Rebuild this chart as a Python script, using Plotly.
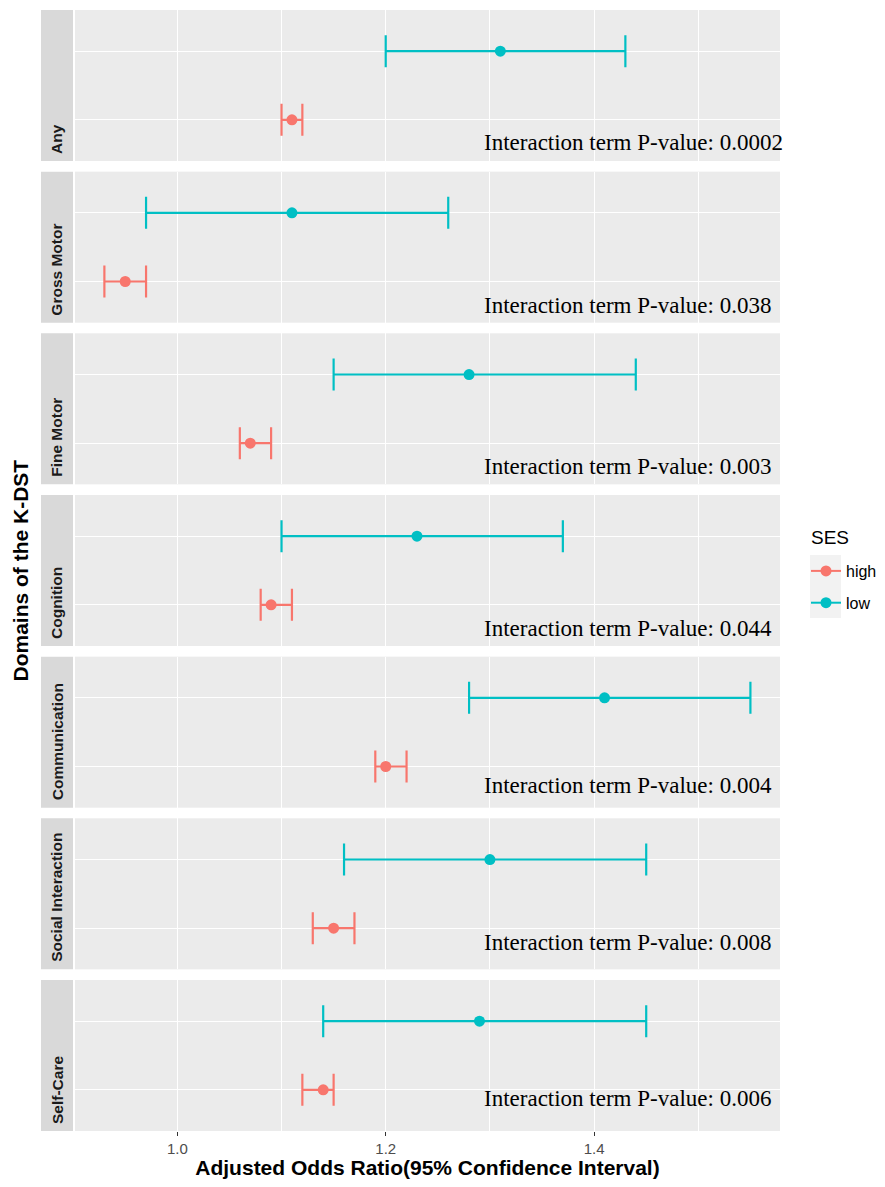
import plotly.graph_objects as go
from plotly.subplots import make_subplots

# ---------------- data ----------------
domains = ["Any", "Gross Motor", "Fine Motor", "Cognition",
           "Communication", "Social Interaction", "Self-Care"]
ses_levels = ["high", "low"]
high_or = [1.11, 0.95, 1.07, 1.09, 1.20, 1.15, 1.14]
high_lo = [1.10, 0.93, 1.06, 1.08, 1.19, 1.13, 1.12]
high_hi = [1.12, 0.97, 1.09, 1.11, 1.22, 1.17, 1.15]
low_or = [1.31, 1.11, 1.28, 1.23, 1.41, 1.30, 1.29]
low_lo = [1.20, 0.97, 1.15, 1.10, 1.28, 1.16, 1.14]
low_hi = [1.43, 1.26, 1.44, 1.37, 1.55, 1.45, 1.45]
p_values = ["0.0002", "0.038", "0.003", "0.044", "0.004", "0.008", "0.006"]
x_ticks = [1.0, 1.2, 1.4]
x_tick_labels = ["1.0", "1.2", "1.4"]

# ---------------- style / layout ----------------
OFF = 8                      # default page body margin
W, H = 885 - 2 * OFF, 1187 - 2 * OFF
# reference-pixel plot area: x 75..780, y 10..1131
ML = 75 - OFF
MT = 10 - OFF
MR = W - (780 - OFF)
MB = H - (1131 - OFF)
PW = W - ML - MR
PH = H - MT - MB
GAP = 10.67
colors = {"high": "#F8766D", "low": "#00BFC4"}
text_x = 1.2924          # left edge of p-value labels (data units)
label_baseline_px = [10, 9, 9, 9, 14, 18, 24]


def xp(px):
    """reference x pixel -> paper coordinate"""
    return (px - OFF - ML) / PW


def yp(py):
    """reference y pixel -> paper coordinate"""
    return (MT + PH - (py - OFF)) / PH


n = len(domains)
fig = make_subplots(rows=n, cols=1, shared_xaxes=True,
                    vertical_spacing=GAP / PH)

series = {
    "high": (high_or, high_lo, high_hi),
    "low": (low_or, low_lo, low_hi),
}

for i in range(n):
    for lvl in ses_levels:
        est, lo, hi = series[lvl]
        fig.add_trace(go.Scatter(
            x=[est[i]], y=[lvl],
            mode="lines+markers",
            name=lvl, legendgroup=lvl, showlegend=(i == 0),
            marker=dict(color=colors[lvl], size=11),
            line=dict(color=colors[lvl], width=2),
            error_x=dict(type="data", symmetric=False,
                         array=[hi[i] - est[i]],
                         arrayminus=[est[i] - lo[i]],
                         color=colors[lvl], thickness=2.2, width=16),
            hoverinfo="x+y",
        ), row=i + 1, col=1)

annotations = []
shapes = []
for i in range(n):
    ax = "" if i == 0 else str(i + 1)
    # p-value text
    annotations.append(dict(
        xref="x" + ax, yref="y" + ax + " domain",
        x=text_x, y=0, xanchor="left", yanchor="bottom",
        yshift=label_baseline_px[i] - 6,
        text="Interaction term P-value: " + p_values[i],
        showarrow=False,
        font=dict(family="Liberation Serif, Times New Roman, serif",
                  size=23, color="#000000"),
    ))
    # strip label
    annotations.append(dict(
        xref="paper", yref="y" + ax + " domain",
        x=xp(57), y=0, xanchor="center", yanchor="bottom", yshift=5,
        text="<b>" + domains[i] + "</b>", textangle=-90,
        showarrow=False,
        font=dict(family="Liberation Sans, Arial, sans-serif",
                  size=15.5, color="#1A1A1A"),
    ))
    shapes.append(dict(
        type="rect", xref="paper", yref="y" + ax + " domain",
        x0=xp(41), x1=xp(73), y0=0, y1=1,
        fillcolor="#D9D9D9", line=dict(width=0), layer="below",
    ))

# y-axis title
annotations.append(dict(
    xref="paper", yref="paper", x=xp(20), y=0.5,
    xanchor="center", yanchor="middle",
    text="<b>Domains of the K-DST</b>", textangle=-90, showarrow=False,
    font=dict(family="Liberation Sans, Arial, sans-serif", size=21,
              color="#000000"),
))

# legend title
annotations.append(dict(
    xref="paper", yref="paper", x=xp(809), y=yp(537),
    xanchor="left", yanchor="middle", text="SES", showarrow=False,
    font=dict(family="Liberation Sans, Arial, sans-serif", size=19,
              color="#000000"),
))

# legend key background
shapes.append(dict(
    type="rect", xref="paper", yref="paper",
    x0=xp(810), x1=xp(841), y0=yp(618), y1=yp(555),
    fillcolor="#F2F2F2", line=dict(width=0), layer="below",
))

fig.update_xaxes(
    range=[0.9018, 1.5784],
    tickvals=x_ticks, ticktext=x_tick_labels,
    showgrid=True, gridcolor="#FFFFFF", gridwidth=1.3,
    minor=dict(dtick=0.1, tick0=0.9, showgrid=True,
               gridcolor="#FFFFFF", gridwidth=0.9),
    zeroline=False, showline=False,
    tickfont=dict(family="Liberation Sans, Arial, sans-serif",
                  size=15, color="#4D4D4D"),
)
fig.update_xaxes(ticks="outside", ticklen=4, tickwidth=1,
                 tickcolor="#333333", row=n, col=1)
fig.update_xaxes(
    title=dict(text="<b>Adjusted Odds Ratio(95% Confidence Interval)</b>",
               font=dict(family="Liberation Sans, Arial, sans-serif",
                         size=21, color="#000000"),
               standoff=4),
    row=n, col=1)

fig.update_yaxes(
    type="category", categoryorder="array", categoryarray=ses_levels,
    range=[-0.6, 1.6], showticklabels=False, ticks="",
    showgrid=True, gridcolor="#FFFFFF", gridwidth=1.3,
    zeroline=False, showline=False,
)

fig.update_layout(
    width=W, height=H,
    margin=dict(l=ML, r=MR, t=MT, b=MB, pad=0, autoexpand=False),
    paper_bgcolor="#FFFFFF", plot_bgcolor="#EBEBEB",
    annotations=annotations, shapes=shapes,
    showlegend=True,
    legend=dict(
        font=dict(family="Liberation Sans, Arial, sans-serif",
                  size=16, color="#000000"),
        x=xp(806), y=yp(554), xanchor="left", yanchor="top",
        bgcolor="rgba(0,0,0,0)", tracegroupgap=8, borderwidth=0,
        itemclick=False, itemdoubleclick=False,
    ),
    hovermode="closest",
)

fig.write_html("out.html")
